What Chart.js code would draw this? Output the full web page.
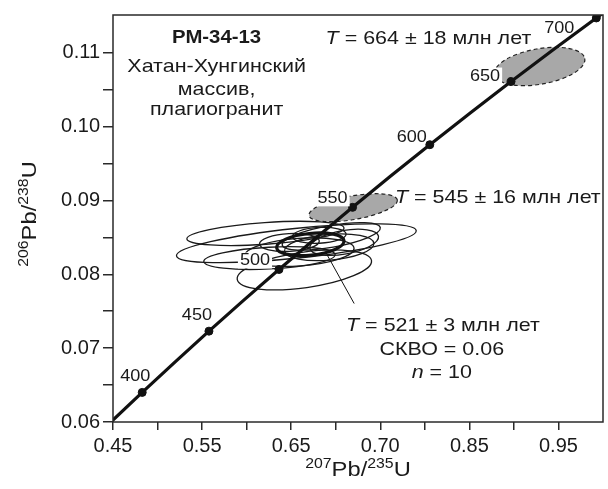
<!DOCTYPE html>
<html><head><meta charset="utf-8">
<script src="https://cdn.jsdelivr.net/npm/chart.js@4.4.1/dist/chart.umd.min.js"></script>
<style>html,body{margin:0;padding:0;background:#fff}#wrap{width:608px;height:489px;position:relative}</style>
</head><body><div id="wrap"><canvas id="c"></canvas></div>
<script>
// Concordia curve points (207Pb/235U , 206Pb/238U), 375..710 Ma
const concordiaX = [0.4468,0.4828,0.5198,0.5577,0.5965,0.6363,0.6771,0.7189,0.7617,0.8056,0.8506,0.8968,0.9441,0.9925,1.0122];
const concordiaY = [0.05990,0.06401,0.06815,0.07230,0.07647,0.08065,0.08485,0.08906,0.09330,0.09754,0.10181,0.10609,0.11039,0.11470,0.11643];
// Age marks on the concordia
const ageLabels = ['400','450','500','550','600','650','700'];
const ageX = [0.4828,0.5577,0.6363,0.7189,0.8056,0.8968,0.9925];
const ageY = [0.06401,0.07230,0.08065,0.08906,0.09754,0.10609,0.11470];
// Analysis error ellipses (n = 10): centre, half-axes, tilt (deg)
const ellCX = [0.6211,0.6558,0.6256,0.6648,0.6815,0.6950,0.6927,0.6592,0.7095,0.6480];
const ellCY = [0.08553,0.08420,0.08219,0.08059,0.08527,0.08513,0.08366,0.08300,0.08433,0.08430];
const ellRX = [0.0884,0.1353,0.0738,0.0761,0.0302,0.0559,0.0503,0.0615,0.0391,0.0336];
const ellRY = [0.00147,0.00201,0.00147,0.00241,0.00107,0.00147,0.00174,0.00187,0.00160,0.00120];
const ellAng = [-4,-6,-3,-8,-3,-10,-5,-4,-10,-3];
// Concordia age ellipse (T = 521 ± 3)
const meanCX = [0.6715], meanCY = [0.08406], meanRX = [0.0380], meanRY = [0.00147], meanAng = [-6];
// Discordant grey ellipses (T = 545 ± 16, T = 664 ± 18)
const greyCX = [0.7196,0.9288], greyCY = [0.08901,0.10813], greyRX = [0.0503,0.0515], greyRY = [0.00160,0.00240], greyAng = [-10,-10];
// Axis ticks
const xMajorValues = [0.45,0.55,0.65,0.75,0.85,0.95];
const xMajorLabels = ['0.45','0.55','0.65','0.70','0.85','0.95'];
const xMinorValues = [0.50,0.60,0.70,0.80,0.90];
const yMajorValues = [0.06,0.07,0.08,0.09,0.10,0.11];
const yMajorLabels = ['0.06','0.07','0.08','0.09','0.10','0.11'];
const yMinorValues = [0.065,0.075,0.085,0.095,0.105];
// Text
const titleLines = ['РМ-34-13','Хатан-Хунгинский','массив,','плагиогранит'];
const ageText664 = ' = 664 ± 18 млн лет';
const ageText545 = ' = 545 ± 16 млн лет';
const ageText521 = ' = 521 ± 3 млн лет';
const mswdText = 'СКВО = 0.06';
const nText = ' = 10';
const leaderX = [0.6905,0.7207], leaderY = [0.08259,0.07604];

const FF = '"Liberation Sans", Arial, Helvetica, sans-serif';
const SX = 1.13;

function rich(ctx, segs, x, y, align, sx, rot) {
  let w = 0;
  segs.forEach(s => { ctx.font = s.f; s.w = ctx.measureText(s.t).width; w += s.w; });
  ctx.save(); ctx.translate(x, y); if (rot) ctx.rotate(rot); ctx.scale(sx, 1);
  let cx = align === 'center' ? -w/2 : (align === 'right' ? -w : 0);
  ctx.textAlign = 'left'; ctx.textBaseline = 'alphabetic'; ctx.fillStyle = '#1a1a1a';
  segs.forEach(s => { ctx.font = s.f; ctx.fillText(s.t, cx, s.dy || 0); cx += s.w; });
  ctx.restore();
  return w * sx;
}
function ell(ctx, xs, ys, cx, cy, rx, ry, ang) {
  const X = xs.getPixelForValue(cx), Y = ys.getPixelForValue(cy);
  const a = Math.abs(xs.getPixelForValue(cx + rx) - X), b = Math.abs(ys.getPixelForValue(cy + ry) - Y);
  ctx.beginPath(); ctx.ellipse(X, Y, a, b, ang * Math.PI / 180, 0, Math.PI * 2);
}

const deco = {
  id: 'deco',
  beforeDatasetsDraw(chart) {
    const ctx = chart.ctx, xs = chart.scales.x, ys = chart.scales.y, ca = chart.chartArea;
    ctx.save();
    ctx.beginPath(); ctx.rect(ca.left, ca.top, ca.right - ca.left, ca.bottom - ca.top); ctx.clip();
    ctx.strokeStyle = '#1a1a1a'; ctx.lineWidth = 1.3;
    for (let i = 0; i < ellCX.length; i++) { ell(ctx, xs, ys, ellCX[i], ellCY[i], ellRX[i], ellRY[i], ellAng[i]); ctx.stroke(); }
    for (let i = 0; i < greyCX.length; i++) {
      ell(ctx, xs, ys, greyCX[i], greyCY[i], greyRX[i], greyRY[i], greyAng[i]);
      ctx.fillStyle = '#a8a8a8'; ctx.fill();
      ctx.setLineDash([4, 3]); ctx.lineWidth = 1.2; ctx.strokeStyle = '#222'; ctx.stroke(); ctx.setLineDash([]);
    }
    ctx.lineWidth = 3.2; ctx.strokeStyle = '#111';
    ell(ctx, xs, ys, meanCX[0], meanCY[0], meanRX[0], meanRY[0], meanAng[0]); ctx.stroke();
    ctx.lineWidth = 1; ctx.beginPath();
    ctx.moveTo(xs.getPixelForValue(leaderX[0]), ys.getPixelForValue(leaderY[0]));
    ctx.lineTo(xs.getPixelForValue(leaderX[1]), ys.getPixelForValue(leaderY[1])); ctx.stroke();
    ctx.restore();
  },
  afterDatasetsDraw(chart) {
    const ctx = chart.ctx, xs = chart.scales.x, ys = chart.scales.y, ca = chart.chartArea;
    ctx.save();
    ctx.strokeStyle = '#2a2a2a'; ctx.lineWidth = 1.5;
    ctx.strokeRect(ca.left, ca.top, ca.right - ca.left, ca.bottom - ca.top);
    const offs = [[-7,-11],[-12,-11],[-24,-4],[-20,-4],[-18,-3],[-26,-1],[-37,15]];
    const f16 = '16px ' + FF;
    for (let i = 0; i < ageLabels.length; i++) {
      const px = xs.getPixelForValue(ageX[i]) + offs[i][0], py = ys.getPixelForValue(ageY[i]) + offs[i][1];
      if (ageLabels[i] === '500' || ageLabels[i] === '550' || ageLabels[i] === '650') {
        ctx.font = f16; const w = ctx.measureText(ageLabels[i]).width * SX;
        ctx.fillStyle = '#fff'; ctx.fillRect(px - w/2 - 2, py - 13, w + 4, 16);
      }
      rich(ctx, [{t: ageLabels[i], f: f16}], px, py, 'center', SX);
    }
    const tx = xs.getPixelForValue(0.5663);
    rich(ctx, [{t: titleLines[0], f: 'bold 18px ' + FF}], tx, ys.getPixelForValue(0.11134), 'center', SX);
    rich(ctx, [{t: titleLines[1], f: '19px ' + FF}], tx, ys.getPixelForValue(0.10733), 'center', SX);
    rich(ctx, [{t: titleLines[2], f: '19px ' + FF}], tx, ys.getPixelForValue(0.10425), 'center', SX);
    rich(ctx, [{t: titleLines[3], f: '19px ' + FF}], tx, ys.getPixelForValue(0.10158), 'center', SX);
    const fi = 'italic 19px ' + FF, fr = '19px ' + FF;
    rich(ctx, [{t: 'T', f: fi}, {t: ageText664, f: fr}], xs.getPixelForValue(0.8040), ys.getPixelForValue(0.11120), 'center', SX);
    rich(ctx, [{t: 'T', f: fi}, {t: ageText545, f: fr}], xs.getPixelForValue(0.8820), ys.getPixelForValue(0.08968), 'center', SX);
    rich(ctx, [{t: 'T', f: fi}, {t: ageText521, f: fr}], xs.getPixelForValue(0.8203), ys.getPixelForValue(0.07230), 'center', SX);
    rich(ctx, [{t: mswdText, f: fr}], xs.getPixelForValue(0.8191), ys.getPixelForValue(0.06909), 'center', SX);
    rich(ctx, [{t: 'n', f: fi}, {t: nText, f: fr}], xs.getPixelForValue(0.8191), ys.getPixelForValue(0.06601), 'center', SX);
    const fm = '21px ' + FF, fs = '14px ' + FF;
    rich(ctx, [{t: '207', f: fs, dy: -8}, {t: 'Pb/', f: fm}, {t: '235', f: fs, dy: -8}, {t: 'U', f: fm}], (ca.left + ca.right) / 2, 476, 'center', SX);
    rich(ctx, [{t: '206', f: fs, dy: -8}, {t: 'Pb/', f: fm}, {t: '238', f: fs, dy: -8}, {t: 'U', f: fm}], 36, 214, 'center', SX, -Math.PI / 2);
    ctx.restore();
  }
};

const xTicks = xMajorValues.concat(xMinorValues).sort((a, b) => a - b);
const yTicks = yMajorValues.concat(yMinorValues).sort((a, b) => a - b);
function lab(vals, labels) {
  return v => { const i = vals.findIndex(m => Math.abs(m - v) < 1e-6); return i >= 0 ? labels[i] : ''; };
}

new Chart(document.getElementById('c'), {
  type: 'scatter',
  data: {
    datasets: [
      { data: concordiaX.map((x, i) => ({x, y: concordiaY[i]})), showLine: true, borderColor: '#111', borderWidth: 3.2, pointRadius: 0, order: 2 },
      { data: ageX.map((x, i) => ({x, y: ageY[i]})), showLine: false, pointRadius: 4, backgroundColor: '#111', borderColor: '#111', order: 1 }
    ]
  },
  options: {
    responsive: true, maintainAspectRatio: false, animation: false,
    layout: { padding: { top: 10, right: 3, left: 0, bottom: 0 } },
    plugins: { legend: { display: false }, tooltip: { enabled: false } },
    scales: {
      x: {
        type: 'linear', min: 0.45, max: 1.0,
        afterBuildTicks: s => { s.ticks = xTicks.map(v => ({value: v})); },
        afterFit: s => { s.height = 67; },
        border: { display: false },
        grid: { drawOnChartArea: false, drawTicks: true, tickLength: 8, color: '#2a2a2a', lineWidth: 1.5 },
        ticks: { autoSkip: false, maxRotation: 0, padding: 4, color: '#1a1a1a', font: { family: FF, size: 20 }, callback: lab(xMajorValues, xMajorLabels) }
      },
      y: {
        type: 'linear', min: 0.06, max: 0.1151,
        afterBuildTicks: s => { s.ticks = yTicks.map(v => ({value: v})); },
        afterFit: s => { s.width = 113; },
        border: { display: false },
        grid: { drawOnChartArea: false, drawTicks: true, tickLength: 10, color: '#2a2a2a', lineWidth: 1.5 },
        ticks: { autoSkip: false, padding: 3, color: '#1a1a1a', font: { family: FF, size: 20 }, callback: lab(yMajorValues, yMajorLabels) }
      }
    }
  },
  plugins: [deco]
});
</script></body></html>
